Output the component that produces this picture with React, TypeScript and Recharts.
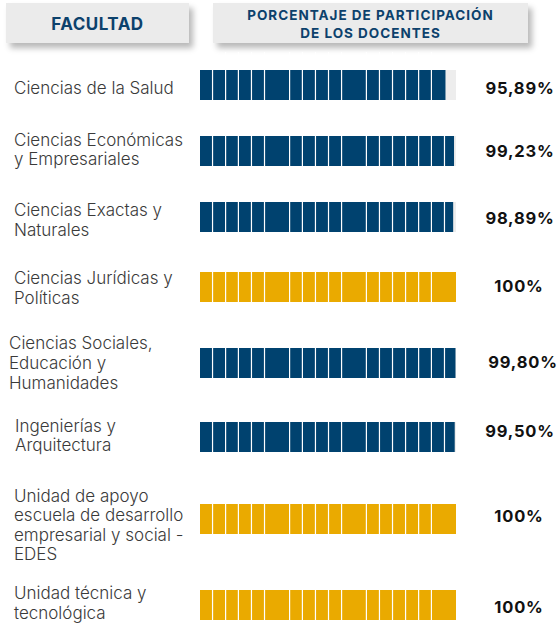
import React from "react";
import { BarChart, Bar, XAxis, YAxis, ReferenceLine, LabelList, Cell } from "recharts";

// ---------- data ----------
const CATEGORIES = [
  "Ciencias de la Salud",
  "Ciencias Económicas\ny Empresariales",
  "Ciencias Exactas y\nNaturales",
  "Ciencias Jurídicas y\nPolíticas",
  "Ciencias Sociales,\nEducación y\nHumanidades",
  "Ingenierías y\nArquitectura",
  "Unidad de apoyo\nescuela de desarrollo\nempresarial y social -\nEDES",
  "Unidad técnica y\ntecnológica",
];
const PARTICIPATION = [95.89, 99.23, 98.89, 100, 99.8, 99.5, 100, 100];
// segment divisions of each bar (percentage units)
const SEGMENT_BREAKS = [4.9, 10, 15, 20.1, 25.2, 35, 40, 45.1, 50.2, 55.3, 65, 70.1, 75.2, 80.3, 85.4, 90.4];
const LAST_BREAK = 95.5;
const HAS_LAST_BREAK = [false, true, true, false, true, true, false, false];
const HEADER_LEFT = "FACULTAD";
const HEADER_RIGHT = ["PORCENTAJE DE PARTICIPACIÓN", "DE LOS DOCENTES"];

// ---------- layout / style ----------
const NAVY = "#00426f";
const GOLD = "#eaaa00";
const TRACK = "#ededed";
const HEADER_BG = "#ebebeb";
const HEADER_TEXT = "#0c416c";
const FONT = "Inter, 'Noto Sans', sans-serif";

const HEADER_H = 52;
const ROW_HEIGHTS = [66, 66, 66, 74, 78, 70, 94, 59];
const ROW_MARGIN_TOP = [0, 0, 0, 0, 0, 0, 0, 19];
const LABEL_OFFSET = [3, -1.5, 3, 1, 0, -1.5, 6, -2];
const LABEL_X = [14, 14, 14, 14, 9, 15, 14, 14];
const PCT_OFFSET = [2.5, 0, 0.5, -1, -1.5, -6, -3.5, 2];
const PCT_X = [520, 520, 520, 519, 523, 520, 519, 519];
const LINE_GAP = 19.6;

const formatPct = (v: number) =>
  Number.isInteger(v) ? `${v}%` : `${v.toFixed(2).replace(".", ",")}%`;

const rows = CATEGORIES.map((name, i) => ({
  name,
  value: PARTICIPATION[i],
  label: formatPct(PARTICIPATION[i]),
}));

function CategoryTick(props: any) {
  const { y, payload, rowIndex } = props;
  const lines = String(payload.value).split("\n");
  const n = lines.length;
  const base = y + LABEL_OFFSET[rowIndex];
  return (
    <text fontFamily={FONT} fontSize={17} fontWeight={300} fill="#3a3a3a" textAnchor="start">
      {lines.map((ln, i) => (
        <tspan key={i} x={LABEL_X[rowIndex]} y={base + (i - (n - 1) / 2) * LINE_GAP + 6}>
          {ln}
        </tspan>
      ))}
    </text>
  );
}

function Row({ index }: { index: number }) {
  const row = rows[index];
  const breaks = HAS_LAST_BREAK[index] ? [...SEGMENT_BREAKS, LAST_BREAK] : SEGMENT_BREAKS;
  return (
    <BarChart
      width={558}
      height={ROW_HEIGHTS[index]}
      data={[row]}
      layout="vertical"
      margin={{ top: ROW_MARGIN_TOP[index], bottom: 0, left: 0, right: 102 }}
    >
      <XAxis type="number" domain={[0, 100]} hide />
      <YAxis
        type="category"
        dataKey="name"
        width={200}
        axisLine={false}
        tickLine={false}
        interval={0}
        tick={(p: any) => <CategoryTick {...p} rowIndex={index} />}
      />
      <Bar dataKey="value" barSize={30} isAnimationActive={false} background={{ fill: TRACK }}>
        {[row].map((r, i) => (
          <Cell key={i} fill={r.value >= 100 ? GOLD : NAVY} />
        ))}
        <LabelList
          dataKey="label"
          content={(p: any) => (
            <text
              x={PCT_X[index]}
              y={p.y + p.height / 2 + PCT_OFFSET[index] + 6}
              textAnchor="middle"
              fontFamily={FONT}
              fontWeight={700}
              fontSize={16.5}
              letterSpacing={0.8}
              fill="#111"
            >
              {p.value}
            </text>
          )}
        />
      </Bar>
      {breaks.map((b) => (
        <ReferenceLine key={b} x={b} stroke="#ffffff" strokeWidth={1.2} />
      ))}
    </BarChart>
  );
}

export default function App() {
  return (
    <div
      style={{
        position: "absolute",
        left: 0,
        top: 0,
        width: 558,
        height: 625,
        background: "#fff",
        overflow: "hidden",
        fontFamily: FONT,
      }}
    >
      <div style={{ position: "relative", height: HEADER_H }}>
        <div
          style={{
            position: "absolute",
            left: 6,
            top: 3,
            width: 183,
            height: 40,
            background: HEADER_BG,
            boxShadow: "4px 5px 6px rgba(0,0,0,0.28)",
            display: "flex",
            alignItems: "center",
            justifyContent: "center",
            color: HEADER_TEXT,
            fontWeight: 700,
            fontSize: 17,
            letterSpacing: 0.5,
            paddingTop: 2,
            boxSizing: "border-box",
          }}
        >
          {HEADER_LEFT}
        </div>
        <div
          style={{
            position: "absolute",
            left: 213,
            top: 3,
            width: 315,
            height: 40,
            background: HEADER_BG,
            boxShadow: "4px 5px 6px rgba(0,0,0,0.28)",
            display: "flex",
            flexDirection: "column",
            alignItems: "center",
            justifyContent: "flex-start",
            paddingTop: 3,
            boxSizing: "border-box",
            color: HEADER_TEXT,
            fontWeight: 700,
            fontSize: 13.5,
            lineHeight: "18px",
            letterSpacing: 1,
            whiteSpace: "nowrap",
          }}
        >
          {HEADER_RIGHT.map((t) => (
            <div key={t}>{t}</div>
          ))}
        </div>
      </div>
      {rows.map((_, i) => (
        <Row key={i} index={i} />
      ))}
    </div>
  );
}
